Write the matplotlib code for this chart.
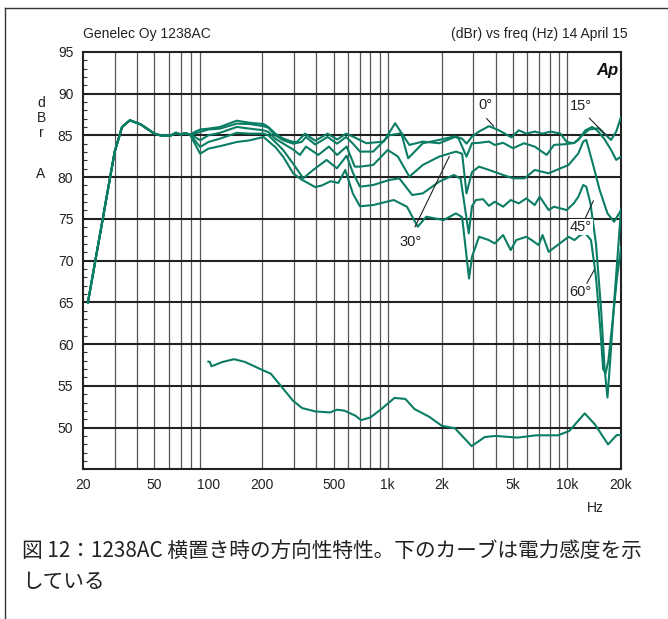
import numpy as np
import matplotlib
matplotlib.use("Agg")
import matplotlib.pyplot as plt
from matplotlib.lines import Line2D
from matplotlib.ticker import NullLocator, MultipleLocator

plt.rcParams['font.family'] = ['Liberation Sans', 'Noto Sans CJK JP']

# shared low-frequency part (all angles identical below ~80 Hz)
common_f = [21.3, 30, 33, 36.5, 42, 50, 55, 62, 66, 70, 74, 79]
common_db = [65.0, 83.0, 86.0, 86.8, 86.3, 85.2, 84.95, 85.0, 85.3, 85.1, 85.25, 85.1]

deg0_f = [84, 90, 100, 116, 144, 170, 203, 216, 236, 262, 297, 311, 346, 394, 462, 522, 586, 640, 760, 950,
          1100, 1230, 1320, 1570, 1936, 2400, 2600, 2750, 2950, 3230, 3670, 4165, 4500, 4900, 5380, 5930,
          6600, 7300, 8100, 9200, 9950, 10900, 11570, 12650, 13800, 14700, 16100, 17600, 18800, 20000]
deg0_db = [85.4, 85.7, 85.8, 86.0, 86.75, 86.5, 86.35, 86.0, 85.2, 84.6, 84.2, 84.2, 85.2, 84.35, 85.2, 84.5,
           85.2, 84.85, 84.05, 84.25, 86.45, 84.85, 83.85, 84.25, 84.05, 84.85, 84.6, 84.0, 84.85, 85.45,
           86.1, 85.6, 85.2, 84.75, 85.6, 85.2, 85.45, 85.2, 85.45, 85.2, 84.2, 84.05, 84.45, 85.6, 86.0,
           85.6, 84.6, 83.25, 82.05, 82.45]

deg15_f = [84, 90, 100, 116, 144, 170, 203, 216, 236, 262, 297, 331, 350, 394, 462, 522, 586, 640, 700, 830,
           1020, 1190, 1300, 1570, 1936, 2340, 2480, 2750, 2950, 3230, 3670, 3950, 4400, 5000, 5750, 6600,
           7700, 8450, 9950, 11000, 12150, 13300, 15000, 16500, 17600, 18800, 20000]
deg15_db = [85.2, 85.4, 85.7, 85.8, 86.4, 86.35, 86.1, 85.9, 85.0, 84.4, 84.0, 84.2, 84.8, 83.9, 84.8, 84.0,
            84.8, 84.0, 83.05, 83.05, 85.0, 85.25, 82.25, 84.05, 84.45, 84.85, 84.65, 82.45, 84.05, 84.1,
            84.25, 83.85, 84.1, 83.45, 84.05, 83.65, 82.65, 83.85, 83.95, 84.1, 85.0, 85.7, 85.85, 85.0,
            84.45, 85.45, 87.2]

deg30_f = [84, 90, 100, 116, 144, 170, 203, 216, 236, 262, 297, 324, 350, 410, 470, 522, 590, 655, 700, 830,
           1000, 1140, 1320, 1570, 1936, 2400, 2600, 2750, 2950, 3230, 3670, 4400, 5000, 5800, 6600, 7900,
           9200, 10200, 11570, 12300, 12800, 13900, 15200, 16800, 18300, 20000]
deg30_db = [84.8, 84.4, 85.0, 85.3, 86.0, 85.8, 85.6, 85.4, 84.6, 84.0, 83.3, 82.65, 83.65, 82.65, 83.65,
            82.65, 83.65, 81.25, 81.25, 81.45, 83.25, 82.45, 80.05, 81.45, 82.45, 83.05, 82.8, 78.05, 80.6,
            81.25, 80.85, 80.25, 79.85, 79.85, 80.85, 80.45, 81.05, 81.45, 82.85, 84.25, 84.45, 81.65, 78.45,
            75.65, 74.65, 76.05]

deg45_f = [84, 90, 100, 116, 144, 170, 203, 216, 236, 262, 297, 338, 384, 456, 521, 590, 640, 700, 830, 1020,
           1160, 1370, 1570, 1936, 2340, 2550, 2830, 2950, 3100, 3400, 3670, 3950, 4400, 4850, 5380, 5930,
           6600, 7040, 7900, 8450, 9950, 10900, 11570, 12300, 12800, 13500, 14500, 15500, 16200, 16800,
           17400, 18300, 19200, 20000]
deg45_db = [84.4, 83.6, 84.2, 84.6, 85.3, 85.2, 85.2, 85.0, 84.2, 83.2, 81.6, 79.85, 80.85, 82.05, 81.05,
            82.55, 80.5, 78.85, 79.05, 79.65, 79.85, 77.85, 78.05, 79.45, 80.25, 79.8, 73.25, 76.5, 77.25,
            77.35, 76.55, 77.05, 76.45, 77.25, 76.85, 77.45, 76.65, 77.65, 76.05, 76.45, 76.05, 76.85, 77.65,
            79.05, 78.85, 76.85, 72.0, 64.0, 57.0, 53.6, 58.0, 65.0, 71.0, 76.2]

deg60_f = [84, 90, 100, 116, 144, 170, 203, 216, 236, 262, 297, 331, 394, 430, 480, 530, 580, 640, 700, 830,
           1080, 1280, 1470, 1640, 2050, 2400, 2600, 2840, 2950, 3230, 3670, 3950, 4400, 4850, 5200, 5930,
           6350, 6950, 7300, 7900, 8850, 10200, 11000, 11850, 12650, 13600, 14500, 15300, 15900, 16400,
           17000, 18000, 19000, 20000]
deg60_db = [84.0, 82.8, 83.4, 83.7, 84.2, 84.4, 84.8, 84.3, 83.6, 82.4, 80.45, 79.7, 78.8, 79.0, 79.5, 79.3,
            80.85, 78.0, 76.5, 76.65, 77.25, 76.45, 74.05, 75.25, 74.85, 75.65, 75.2, 67.85, 70.45, 72.85,
            72.45, 72.05, 73.05, 71.25, 72.45, 72.85, 72.45, 71.85, 73.05, 71.05, 71.85, 72.85, 72.45, 73.05,
            73.25, 72.45, 68.0, 62.0, 57.0, 56.5, 58.0, 63.0, 68.0, 71.6]

# power response (lower curve)
power_f = [100, 102, 104, 120, 139, 160, 202, 223, 257, 296, 333, 393, 475, 523, 574, 662, 710, 800, 922,
           1090, 1254, 1410, 1705, 2006, 2370, 2937, 3480, 4000, 5280, 6710, 8900, 10300, 12540, 14280,
           16930, 18900, 20000]
power_db = [57.9, 57.86, 57.34, 57.86, 58.19, 57.86, 56.85, 56.45, 54.84, 53.23, 52.34, 51.94, 51.81, 52.14,
            52.02, 51.41, 50.89, 51.21, 52.22, 53.55, 53.43, 52.22, 51.29, 50.2, 49.92, 47.78, 48.87, 49.0,
            48.8, 49.07, 49.07, 49.6, 51.7, 50.4, 47.98, 49.1, 49.1]

xtick_vals = [20, 50, 100, 200, 500, 1000, 2000, 5000, 10000, 20000]
xtick_labels = ['20', '50', '100', '200', '500', '1k', '2k', '5k', '10k', '20k']
ytick_vals = [50, 55, 60, 65, 70, 75, 80, 85, 90, 95]

# angle labels: (text, label pos, pointer start, pointer end)
angle_labels = [
    ('0°', (3512, 88.6), (3560, 87.0), (3900, 86.1)),
    ('15°', (11920, 88.5), (13320, 87.05), (16540, 85.0)),
    ('30°', (1348, 72.2), (1420, 74.05), (2202, 82.45)),
    ('45°', (11920, 74.0), (12620, 75.05), (14020, 77.15)),
    ('60°', (11920, 66.2), (12900, 67.3), (14160, 68.85)),
]

green = '#0b7d64'

fig = plt.figure(figsize=(6.68, 6.19), dpi=100)
ax = fig.add_axes([0.1243, 0.2418, 0.8054, 0.6745])
ax.set_xscale('log')
ax.set_xlim(20, 20000)
ax.set_ylim(45, 95)

# grid
grid_f = [m * 10 ** e for e in range(1, 4) for m in range(2, 10) if 20 < m * 10 ** e < 20000] + [1000, 10000]
for f in sorted(set(grid_f)):
    ax.axvline(f, color='#555555', lw=0.9, zorder=1)
for v in range(50, 95, 5):
    ax.axhline(v, color='#222222', lw=1.5, zorder=1)

for f_part, db_part in [(deg0_f, deg0_db), (deg15_f, deg15_db), (deg30_f, deg30_db),
                        (deg45_f, deg45_db), (deg60_f, deg60_db)]:
    ax.plot(common_f + f_part, common_db + db_part, color=green, lw=1.5, zorder=3,
            solid_joinstyle='round')
ax.plot(power_f, power_db, color=green, lw=1.5, zorder=3)

for txt, pos, p0, p1 in angle_labels:
    ax.text(pos[0], pos[1], txt, fontsize=10.5, ha='center', va='center', color='#222222', zorder=5,
            bbox=dict(facecolor='white', edgecolor='none', pad=0.5))
    ax.plot([p0[0], p1[0]], [p0[1], p1[1]], color='#222222', lw=0.8, zorder=4)

ax.text(0.995, 0.955, 'Ap', transform=ax.transAxes, ha='right', va='center', fontsize=12,
        fontweight='bold', fontstyle='italic', color='#111111')

ax.set_xticks(xtick_vals)
ax.set_xticklabels(xtick_labels)
ax.xaxis.set_minor_locator(NullLocator())
ax.set_yticks(ytick_vals)
ax.yaxis.set_minor_locator(MultipleLocator(1))
ax.tick_params(axis='both', which='major', length=0, labelsize=10, colors='#222222')
ax.tick_params(axis='x', pad=6)
ax.tick_params(axis='y', pad=7)
ax.tick_params(axis='y', which='minor', direction='in', length=3, width=0.8, color='#333333')
for s in ax.spines.values():
    s.set_linewidth(1.5)
    s.set_color('#222222')

fig.text(83 / 668, 1 - 34 / 619, 'Genelec Oy 1238AC', fontsize=10, va='center', ha='left', color='#222222')
fig.text(628 / 668, 1 - 34 / 619, '(dBr) vs freq (Hz) 14 April 15', fontsize=10, va='center', ha='right',
         color='#222222')
for ch, yy in [('d', 103), ('B', 118), ('r', 133), ('A', 174)]:
    fig.text(41 / 668, 1 - yy / 619, ch, fontsize=10, ha='center', va='center', color='#222222')
fig.text(595 / 668, 1 - 508 / 619, 'Hz', fontsize=10, ha='center', va='center', color='#222222')

cap = ['図 12：1238AC 横置き時の方向性特性。下のカーブは電力感度を示', 'している']
fig.text(22 / 668, 1 - 551 / 619, cap[0], fontsize=14.9, ha='left', va='center', color='#222222',
         family=['Noto Sans CJK JP'])
fig.text(22 / 668, 1 - 582 / 619, cap[1], fontsize=14.9, ha='left', va='center', color='#222222',
         family=['Noto Sans CJK JP'])

# outer frame (left and top edges)
fig.add_artist(Line2D([5 / 668, 5 / 668], [0, 1 - 8 / 619], color='#333333', lw=1.0))
fig.add_artist(Line2D([5 / 668, 1], [1 - 8 / 619, 1 - 8 / 619], color='#333333', lw=1.0))

fig.savefig('out.png', dpi=100)
